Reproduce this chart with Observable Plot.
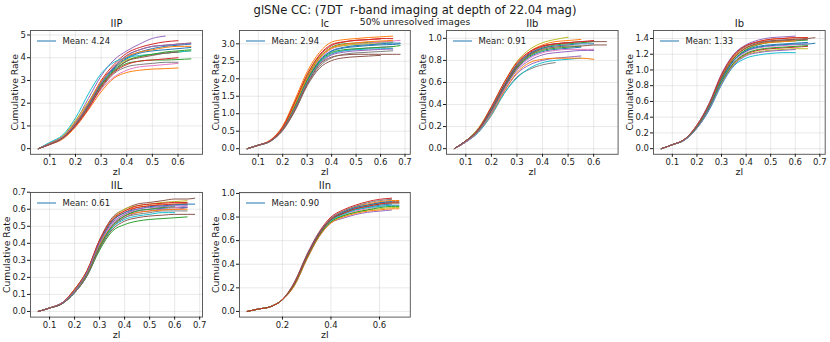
<!DOCTYPE html>
<html>
<head>
<meta charset="utf-8">
<script src="https://cdn.jsdelivr.net/npm/d3@7"></script>
<script src="https://cdn.jsdelivr.net/npm/@observablehq/plot@0.6"></script>
<style>
  body { margin: 0; background: #fff; }
  #c { position: relative; width: 830px; height: 342px; overflow: hidden; background: #fff; font-family: "DejaVu Sans", sans-serif; color: #1a1a1a; }
  .ttl { position: absolute; left: 0; width: 830px; text-align: center; white-space: pre; }
  #c svg { position: absolute; overflow: visible; }
</style>
</head>
<body>
<div id="c">
  <div class="ttl" id="title" style="top:3px;font-size:11.6px;"></div>
  <div class="ttl" id="subtitle" style="top:16px;font-size:9.2px;"></div>
</div>
<script>
const titleText = "glSNe CC: (7DT  r-band imaging at depth of 22.04 mag)";
const subtitleText = "50% unresolved images";
const panelNames = ["IIP", "Ic", "IIb", "Ib", "IIL", "IIn"];
const meanValues = [4.24, 2.94, 0.91, 1.33, 0.61, 0.90];
const xLabel = "zl";
const yLabel = "Cumulative Rate";

// lens redshift grid shared by all curves
const zl = [0.055, 0.1, 0.15, 0.2, 0.25, 0.3, 0.35, 0.4, 0.45, 0.5, 0.55, 0.6, 0.65, 0.68];

const curvesIIP = [
  [0, 0.22, 0.52, 1.1, 1.95, 2.85, 3.5, 3.95, 4.2, 4.3, 4.35, 4.4, 4.45],
  [0, 0.18, 0.42, 0.95, 1.7, 2.5, 3.1, 3.35, 3.45, 3.5, 3.52, 3.55],
  [0, 0.2, 0.5, 1.15, 1.9, 2.8, 3.4, 3.75, 3.85, 3.9, 3.9, 3.92, 3.95],
  [0, 0.22, 0.5, 1.1, 2.0, 3.0, 3.7, 4.2, 4.45, 4.6, 4.7, 4.75],
  [0, 0.25, 0.55, 1.2, 2.2, 3.2, 3.9, 4.3, 4.6, 4.85, 4.95],
  [0, 0.2, 0.48, 1.05, 1.9, 2.9, 3.6, 4.1, 4.35, 4.5, 4.55, 4.6, 4.65],
  [0, 0.18, 0.45, 1.0, 1.75, 2.6, 3.15, 3.45, 3.6, 3.65, 3.7, 3.75],
  [0, 0.19, 0.45, 1.0, 1.8, 2.65, 3.3, 3.6, 3.7, 3.75, 3.8, 3.8],
  [0, 0.24, 0.55, 1.25, 2.05, 2.95, 3.55, 3.9, 4.05, 4.15, 4.2, 4.25, 4.3],
  [0, 0.28, 0.6, 1.35, 2.4, 3.3, 3.8, 4.0, 4.1, 4.15, 4.2, 4.25, 4.3],
  [0, 0.21, 0.5, 1.1, 1.95, 2.9, 3.55, 4.0, 4.25, 4.4, 4.5, 4.55, 4.6],
  [0, 0.23, 0.52, 1.15, 2.0, 2.95, 3.6, 4.05, 4.25, 4.35, 4.45, 4.5, 4.5],
  [0, 0.2, 0.48, 1.05, 1.85, 2.8, 3.45, 3.85, 4.05, 4.15, 4.25, 4.3, 4.35],
  [0, 0.19, 0.46, 1.0, 1.75, 2.7, 3.35, 3.7, 3.85, 3.9, 3.95, 4.0],
  [0, 0.22, 0.5, 1.1, 1.95, 2.9, 3.6, 4.1, 4.35, 4.5, 4.55, 4.6, 4.62],
  [0, 0.2, 0.47, 1.05, 1.85, 2.75, 3.4, 3.85, 4.0, 4.1, 4.2, 4.25]
];
const curvesIc = [
  [0, 0.1, 0.22, 0.56, 1.2, 1.95, 2.5, 2.78, 2.88, 2.92, 2.95, 2.97, 2.98, 3.0],
  [0, 0.1, 0.25, 0.65, 1.4, 2.2, 2.75, 3.05, 3.12, 3.15, 3.18, 3.2, 3.22],
  [0, 0.1, 0.23, 0.6, 1.28, 2.05, 2.6, 2.9, 3.0, 3.02, 3.04, 3.05, 3.05],
  [0, 0.1, 0.24, 0.62, 1.32, 2.1, 2.65, 2.95, 3.05, 3.1, 3.12, 3.15, 3.15],
  [0, 0.1, 0.22, 0.55, 1.15, 1.9, 2.45, 2.7, 2.8, 2.85, 2.88, 2.9, 2.92],
  [0, 0.09, 0.21, 0.52, 1.08, 1.8, 2.3, 2.52, 2.6, 2.63, 2.65, 2.67],
  [0, 0.1, 0.23, 0.58, 1.25, 2.0, 2.55, 2.85, 2.95, 3.0, 3.02, 3.05, 3.08, 3.1],
  [0, 0.09, 0.21, 0.53, 1.1, 1.82, 2.35, 2.6, 2.7, 2.74, 2.76, 2.78, 2.8],
  [0, 0.1, 0.23, 0.59, 1.3, 2.1, 2.62, 2.88, 2.95, 2.98, 3.0, 3.0],
  [0, 0.1, 0.22, 0.55, 1.18, 1.92, 2.45, 2.72, 2.8, 2.83, 2.85, 2.86, 2.87],
  [0, 0.1, 0.22, 0.57, 1.22, 1.98, 2.52, 2.8, 2.9, 2.95, 2.97, 3.0, 3.02, 3.02],
  [0, 0.1, 0.23, 0.6, 1.26, 2.02, 2.58, 2.88, 2.98, 3.03, 3.06, 3.08, 3.1],
  [0, 0.1, 0.22, 0.56, 1.2, 1.95, 2.48, 2.75, 2.83, 2.86, 2.88, 2.9, 2.92, 2.95],
  [0, 0.1, 0.24, 0.61, 1.34, 2.12, 2.68, 2.98, 3.06, 3.1, 3.12, 3.14],
  [0, 0.1, 0.22, 0.55, 1.15, 1.88, 2.42, 2.68, 2.76, 2.8, 2.82, 2.84, 2.85],
  [0, 0.1, 0.22, 0.54, 1.12, 1.85, 2.4, 2.62, 2.68, 2.7, 2.7, 2.7, 2.7, 2.7]
];
const curvesIIb = [
  [0, 0.07, 0.17, 0.35, 0.56, 0.73, 0.83, 0.88, 0.9, 0.91, 0.92],
  [0, 0.07, 0.18, 0.36, 0.58, 0.77, 0.88, 0.94, 0.97, 0.98, 0.99],
  [0, 0.07, 0.17, 0.34, 0.55, 0.74, 0.85, 0.91, 0.94, 0.95, 0.96, 0.97],
  [0, 0.07, 0.18, 0.37, 0.58, 0.76, 0.87, 0.93, 0.95, 0.96],
  [0, 0.06, 0.16, 0.32, 0.52, 0.68, 0.76, 0.8, 0.82, 0.83, 0.84],
  [0, 0.07, 0.17, 0.35, 0.56, 0.75, 0.86, 0.92, 0.95, 0.96, 0.97, 0.97, 0.97],
  [0, 0.07, 0.17, 0.33, 0.54, 0.72, 0.82, 0.87, 0.89, 0.9, 0.9, 0.9],
  [0, 0.06, 0.15, 0.3, 0.5, 0.65, 0.72, 0.76, 0.78],
  [0, 0.07, 0.19, 0.38, 0.6, 0.79, 0.9, 0.96, 0.99, 1.01],
  [0, 0.06, 0.15, 0.31, 0.5, 0.64, 0.73, 0.78, 0.8, 0.81, 0.82],
  [0, 0.07, 0.18, 0.36, 0.57, 0.76, 0.86, 0.91, 0.93, 0.94, 0.95, 0.95],
  [0, 0.06, 0.16, 0.32, 0.52, 0.69, 0.78, 0.81, 0.82, 0.82, 0.82, 0.81],
  [0, 0.07, 0.17, 0.34, 0.55, 0.73, 0.84, 0.89, 0.91, 0.92, 0.93],
  [0, 0.07, 0.18, 0.38, 0.6, 0.78, 0.88, 0.93, 0.95, 0.96, 0.97, 0.98],
  [0, 0.06, 0.16, 0.33, 0.54, 0.71, 0.8, 0.85, 0.87, 0.88, 0.89, 0.89],
  [0, 0.07, 0.17, 0.35, 0.56, 0.74, 0.85, 0.9, 0.92, 0.93, 0.93, 0.94, 0.94]
];
const curvesIb = [
  [0, 0.05, 0.12, 0.28, 0.54, 0.88, 1.12, 1.25, 1.3, 1.32, 1.33, 1.34, 1.35],
  [0, 0.05, 0.12, 0.29, 0.56, 0.92, 1.17, 1.3, 1.36, 1.39, 1.4, 1.41, 1.41],
  [0, 0.05, 0.12, 0.28, 0.54, 0.89, 1.13, 1.26, 1.32, 1.35, 1.36, 1.37, 1.38],
  [0, 0.05, 0.11, 0.27, 0.51, 0.84, 1.08, 1.2, 1.25, 1.27, 1.28, 1.29, 1.3],
  [0, 0.05, 0.12, 0.3, 0.58, 0.95, 1.2, 1.32, 1.38, 1.41, 1.42, 1.43],
  [0, 0.05, 0.12, 0.28, 0.55, 0.9, 1.15, 1.28, 1.33, 1.36, 1.37, 1.38, 1.39],
  [0, 0.05, 0.12, 0.27, 0.52, 0.86, 1.1, 1.23, 1.28, 1.3, 1.31, 1.32, 1.33],
  [0, 0.05, 0.12, 0.29, 0.57, 0.93, 1.18, 1.3, 1.35, 1.37, 1.38, 1.39],
  [0, 0.05, 0.11, 0.26, 0.5, 0.83, 1.07, 1.19, 1.23, 1.25, 1.26, 1.27, 1.27],
  [0, 0.05, 0.11, 0.26, 0.49, 0.81, 1.05, 1.15, 1.19, 1.21, 1.22, 1.22],
  [0, 0.05, 0.12, 0.28, 0.53, 0.87, 1.12, 1.24, 1.29, 1.31, 1.32, 1.33, 1.33, 1.34],
  [0, 0.05, 0.12, 0.29, 0.56, 0.91, 1.16, 1.28, 1.33, 1.35, 1.36, 1.37],
  [0, 0.05, 0.11, 0.27, 0.51, 0.85, 1.09, 1.21, 1.26, 1.28, 1.29, 1.3, 1.31],
  [0, 0.05, 0.12, 0.3, 0.57, 0.94, 1.19, 1.31, 1.36, 1.39, 1.4, 1.41, 1.41],
  [0, 0.05, 0.11, 0.26, 0.5, 0.82, 1.06, 1.18, 1.22, 1.24, 1.25, 1.26],
  [0, 0.05, 0.12, 0.29, 0.56, 0.91, 1.15, 1.28, 1.34, 1.37, 1.38, 1.39, 1.4, 1.41]
];
const curvesIIL = [
  [0, 0.02, 0.05, 0.12, 0.22, 0.39, 0.51, 0.56, 0.59, 0.6, 0.605, 0.61, 0.61],
  [0, 0.02, 0.05, 0.12, 0.23, 0.4, 0.53, 0.59, 0.61, 0.62, 0.63, 0.63, 0.635],
  [0, 0.02, 0.045, 0.11, 0.21, 0.36, 0.47, 0.51, 0.53, 0.54, 0.545, 0.55, 0.555],
  [0, 0.02, 0.05, 0.12, 0.23, 0.41, 0.53, 0.58, 0.61, 0.62, 0.625, 0.63, 0.63],
  [0, 0.02, 0.045, 0.12, 0.22, 0.38, 0.5, 0.55, 0.58, 0.59, 0.6, 0.6, 0.61],
  [0, 0.02, 0.05, 0.13, 0.24, 0.42, 0.55, 0.6, 0.63, 0.64, 0.65, 0.66, 0.66, 0.665],
  [0, 0.02, 0.045, 0.12, 0.22, 0.39, 0.51, 0.57, 0.59, 0.6, 0.61, 0.61, 0.62],
  [0, 0.02, 0.045, 0.11, 0.21, 0.38, 0.49, 0.55, 0.57, 0.58, 0.59, 0.59, 0.59],
  [0, 0.02, 0.05, 0.13, 0.24, 0.41, 0.54, 0.6, 0.62, 0.63, 0.64, 0.645, 0.65],
  [0, 0.02, 0.045, 0.11, 0.21, 0.37, 0.49, 0.54, 0.56, 0.57, 0.58, 0.58],
  [0, 0.02, 0.05, 0.12, 0.23, 0.41, 0.53, 0.58, 0.6, 0.615, 0.62, 0.625, 0.63, 0.63],
  [0, 0.02, 0.05, 0.12, 0.22, 0.39, 0.5, 0.56, 0.58, 0.59, 0.595, 0.6, 0.6],
  [0, 0.02, 0.045, 0.12, 0.22, 0.38, 0.5, 0.56, 0.59, 0.6, 0.61, 0.615],
  [0, 0.02, 0.05, 0.13, 0.24, 0.42, 0.54, 0.59, 0.62, 0.63, 0.635, 0.64, 0.64],
  [0, 0.02, 0.05, 0.12, 0.23, 0.4, 0.52, 0.57, 0.6, 0.61, 0.615, 0.62, 0.62],
  [0, 0.02, 0.045, 0.11, 0.21, 0.37, 0.48, 0.53, 0.55, 0.56, 0.565, 0.57, 0.57, 0.57]
];
const curvesIIn = [
  [0, 0.02, 0.04, 0.1, 0.24, 0.46, 0.65, 0.77, 0.83, 0.86, 0.88, 0.9, 0.91],
  [0, 0.02, 0.04, 0.1, 0.24, 0.47, 0.66, 0.79, 0.85, 0.89, 0.91, 0.93, 0.94, 0.94],
  [0, 0.02, 0.04, 0.1, 0.24, 0.46, 0.65, 0.77, 0.83, 0.87, 0.89, 0.91, 0.92, 0.92],
  [0, 0.02, 0.04, 0.1, 0.25, 0.48, 0.67, 0.8, 0.86, 0.9, 0.93, 0.95, 0.96],
  [0, 0.02, 0.04, 0.1, 0.22, 0.44, 0.63, 0.75, 0.79, 0.82, 0.84, 0.85, 0.86],
  [0, 0.02, 0.04, 0.1, 0.24, 0.46, 0.65, 0.78, 0.84, 0.88, 0.9, 0.92, 0.93, 0.93],
  [0, 0.02, 0.04, 0.1, 0.23, 0.45, 0.64, 0.76, 0.82, 0.85, 0.87, 0.89, 0.9, 0.9],
  [0, 0.02, 0.04, 0.1, 0.25, 0.47, 0.66, 0.79, 0.85, 0.89, 0.92, 0.94, 0.95],
  [0, 0.02, 0.04, 0.1, 0.23, 0.45, 0.64, 0.76, 0.81, 0.84, 0.86, 0.87, 0.88, 0.88],
  [0, 0.02, 0.04, 0.1, 0.23, 0.45, 0.64, 0.77, 0.82, 0.86, 0.88, 0.89, 0.9, 0.9],
  [0, 0.02, 0.04, 0.1, 0.24, 0.47, 0.66, 0.78, 0.84, 0.88, 0.9, 0.92, 0.93],
  [0, 0.02, 0.04, 0.1, 0.22, 0.44, 0.63, 0.75, 0.8, 0.83, 0.85, 0.86, 0.87, 0.87],
  [0, 0.02, 0.04, 0.1, 0.23, 0.45, 0.64, 0.76, 0.81, 0.84, 0.86, 0.88, 0.89, 0.89],
  [0, 0.02, 0.04, 0.1, 0.24, 0.46, 0.65, 0.78, 0.83, 0.87, 0.89, 0.91, 0.92, 0.92]
];

const xTicksIIP = [0.1, 0.2, 0.3, 0.4, 0.5, 0.6];
const xTicksIc  = [0.1, 0.2, 0.3, 0.4, 0.5, 0.6, 0.7];
const xTicksIIb = [0.1, 0.2, 0.3, 0.4, 0.5, 0.6];
const xTicksIb  = [0.1, 0.2, 0.3, 0.4, 0.5, 0.6, 0.7];
const xTicksIIL = [0.1, 0.2, 0.3, 0.4, 0.5, 0.6, 0.7];
const xTicksIIn = [0.2, 0.4, 0.6];
const yTicksIIP = [0, 1, 2, 3, 4, 5];
const yTicksIc  = [0, 0.5, 1.0, 1.5, 2.0, 2.5, 3.0];
const yTicksIIb = [0, 0.2, 0.4, 0.6, 0.8, 1.0];
const yTicksIb  = [0, 0.2, 0.4, 0.6, 0.8, 1.0, 1.2, 1.4];
const yTicksIIL = [0, 0.1, 0.2, 0.3, 0.4, 0.5, 0.6, 0.7];
const yTicksIIn = [0, 0.2, 0.4, 0.6, 0.8, 1.0];

const tab10 = ["#1f77b4", "#ff7f0e", "#2ca02c", "#d62728", "#9467bd", "#8c564b", "#e377c2", "#7f7f7f", "#bcbd22", "#17becf"];

// layout: frame rectangles (pixels) and scale domains
const panels = [
  {curves: curvesIIP, xt: xTicksIIP, yt: yTicksIIP, yFmt: d3.format("d"), xd: [0.0245, 0.6955], yd: [-0.2475, 5.1975], L: 29.5, R: 201.5, T: 29.5, B: 153.3, yl: 15.5},
  {curves: curvesIc,  xt: xTicksIc,  yt: yTicksIc,  yFmt: d3.format(".1f"), xd: [0.0233, 0.7217], yd: [-0.161, 3.381], L: 238.5, R: 409.3, T: 29.5, B: 153.3, yl: 23},
  {curves: curvesIIb, xt: xTicksIIb, yt: yTicksIIb, yFmt: d3.format(".1f"), xd: [0.0245, 0.6955], yd: [-0.051, 1.071], L: 445.7, R: 617.3, T: 29.5, B: 153.3, yl: 23},
  {curves: curvesIb,  xt: xTicksIb,  yt: yTicksIb,  yFmt: d3.format(".1f"), xd: [0.0233, 0.7217], yd: [-0.0715, 1.5015], L: 653.3, R: 825, T: 29.5, B: 153.3, yl: 23},
  {curves: curvesIIL, xt: xTicksIIL, yt: yTicksIIL, yFmt: d3.format(".1f"), xd: [0.0238, 0.7113], yd: [-0.0333, 0.6983], L: 29.5, R: 201.5, T: 191.7, B: 316.3, yl: 23},
  {curves: curvesIIn, xt: xTicksIIn, yt: yTicksIIn, yFmt: d3.format(".1f"), xd: [0.023, 0.727], yd: [-0.048, 1.008], L: 238.5, R: 409.3, T: 191.7, B: 316.3, yl: 23}
];

document.getElementById("title").textContent = titleText;
document.getElementById("subtitle").textContent = subtitleText;

const container = document.getElementById("c");
const ml = 45, mr = 10, mt = 25, mb = 30;

panels.forEach((p, idx) => {
  const data = p.curves.flatMap((c, k) => c.map((y, i) => ({z: zl[i], y, k})));
  const w = p.R - p.L, h = p.B - p.T;
  const svg = Plot.plot({
    width: w + ml + mr,
    height: h + mt + mb,
    marginLeft: ml, marginRight: mr, marginTop: mt, marginBottom: mb,
    x: {domain: p.xd},
    y: {domain: p.yd},
    color: {type: "identity"},
    style: {fontFamily: "DejaVu Sans, sans-serif", fontSize: "8.5px", color: "#1a1a1a", background: "transparent", overflow: "visible"},
    marks: [
      Plot.gridX(p.xt, {stroke: "#b0b0b0", strokeOpacity: 0.35, strokeWidth: 0.8}),
      Plot.gridY(p.yt, {stroke: "#b0b0b0", strokeOpacity: 0.35, strokeWidth: 0.8}),
      Plot.line(data, {x: "z", y: "y", z: "k", stroke: d => tab10[d.k % 10], strokeWidth: 1, curve: "monotone-x"}),
      Plot.frame({stroke: "#4d4d4d", strokeWidth: 0.9}),
      Plot.axisX(p.xt, {tickSize: 3, tickPadding: 1.5, fontSize: 8.5, tickFormat: d3.format(".1f"), label: null}),
      Plot.axisY(p.yt, {tickSize: 3, tickPadding: 1.5, fontSize: 8.5, tickFormat: p.yFmt, label: null}),
      Plot.text([panelNames[idx]], {text: d => d, frameAnchor: "top", lineAnchor: "middle", dy: -7, fontSize: 10}),
      Plot.text([xLabel], {text: d => d, frameAnchor: "bottom", lineAnchor: "middle", dy: 17.5, fontSize: 9.5}),
      Plot.text([yLabel], {text: d => d, frameAnchor: "left", textAnchor: "middle", lineAnchor: "middle", dx: -p.yl, rotate: -90, fontSize: 9.2}),
      Plot.text([`Mean: ${meanValues[idx].toFixed(2)}`], {text: d => d, frameAnchor: "top-left", lineAnchor: "middle", dx: 32, dy: 11, textAnchor: "start", fontSize: 8.5})
    ]
  });
  // legend line sample
  d3.select(svg).append("line")
    .attr("x1", ml + 7).attr("x2", ml + 26)
    .attr("y1", mt + 11).attr("y2", mt + 11)
    .attr("stroke", "#8fbbd9").attr("stroke-width", 2);
  svg.style.left = (p.L - ml) + "px";
  svg.style.top = (p.T - mt) + "px";
  container.appendChild(svg);
});
</script>
</body>
</html>
